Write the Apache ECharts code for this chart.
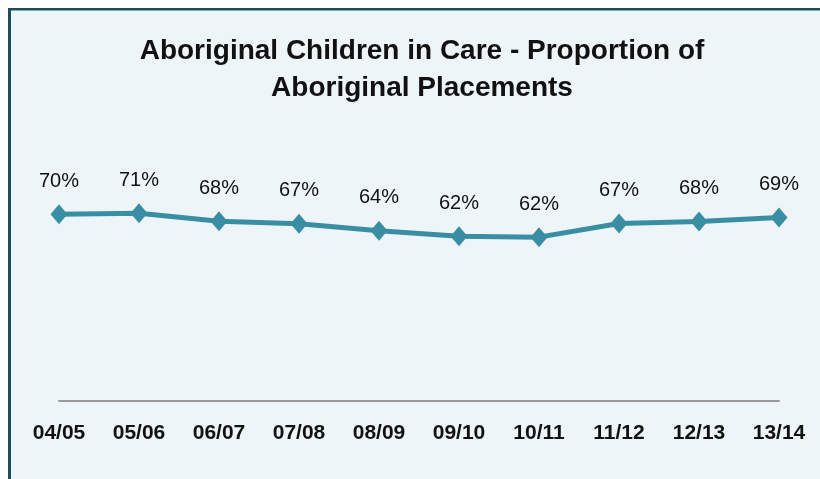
<!DOCTYPE html>
<html>
<head>
<meta charset="utf-8">
<script src="https://cdn.jsdelivr.net/npm/echarts@6/dist/echarts.min.js"></script>
<style>
  html, body { margin: 0; padding: 0; background: #ffffff; }
  #frame {
    position: absolute; left: 8px; top: 8px; width: 830px; height: 490px;
    background: #EDF5F9; border-left: 3px solid #1E4D58; border-top: 2px solid #1E4D58;
    box-shadow: inset 0 1px 0 #7FA9B3;
  }
  #chart { position: absolute; left: 0; top: 0; width: 820px; height: 479px; }
</style>
</head>
<body>
<div id="frame"></div>
<div id="chart"></div>
<script>
const titleText = 'Aboriginal Children in Care - Proportion of\nAboriginal Placements';
const categories = ['04/05', '05/06', '06/07', '07/08', '08/09', '09/10', '10/11', '11/12', '12/13', '13/14'];
const proportions = [70.2, 70.6, 67.6, 66.6, 64.0, 61.9, 61.6, 66.7, 67.5, 69.0];

const chart = echarts.init(document.getElementById('chart'), null, { renderer: 'canvas' });
chart.setOption({
  backgroundColor: 'transparent',
  animation: false,
  title: {
    text: titleText,
    left: 417,
    textAlign: 'center',
    top: 28,
    textStyle: {
      fontFamily: 'Liberation Sans',
      fontWeight: 'bold',
      fontSize: 28,
      lineHeight: 37,
      color: '#111111'
    }
  },
  grid: { left: 59, right: 41, top: 135, bottom: 78, containLabel: false },
  xAxis: {
    type: 'category',
    data: categories,
    boundaryGap: false,
    axisLine: { show: true, lineStyle: { color: '#9A9A9A', width: 2 } },
    axisTick: { show: false },
    axisLabel: {
      margin: 22,
      fontFamily: 'Liberation Sans',
      fontWeight: 'bold',
      fontSize: 21,
      color: '#111111',
      interval: 0
    },
    splitLine: { show: false }
  },
  yAxis: {
    type: 'value',
    min: 0,
    max: 100,
    show: false,
    splitLine: { show: false }
  },
  series: [{
    type: 'line',
    data: proportions,
    symbol: 'diamond',
    symbolSize: [17, 20],
    lineStyle: { color: '#3A8EA4', width: 5 },
    itemStyle: { color: '#3A8EA4' },
    label: {
      show: true,
      position: 'top',
      distance: 13,
      fontFamily: 'Liberation Sans',
      fontSize: 20,
      color: '#111111',
      formatter: p => Math.round(p.value) + '%'
    }
  }]
});
</script>
</body>
</html>
